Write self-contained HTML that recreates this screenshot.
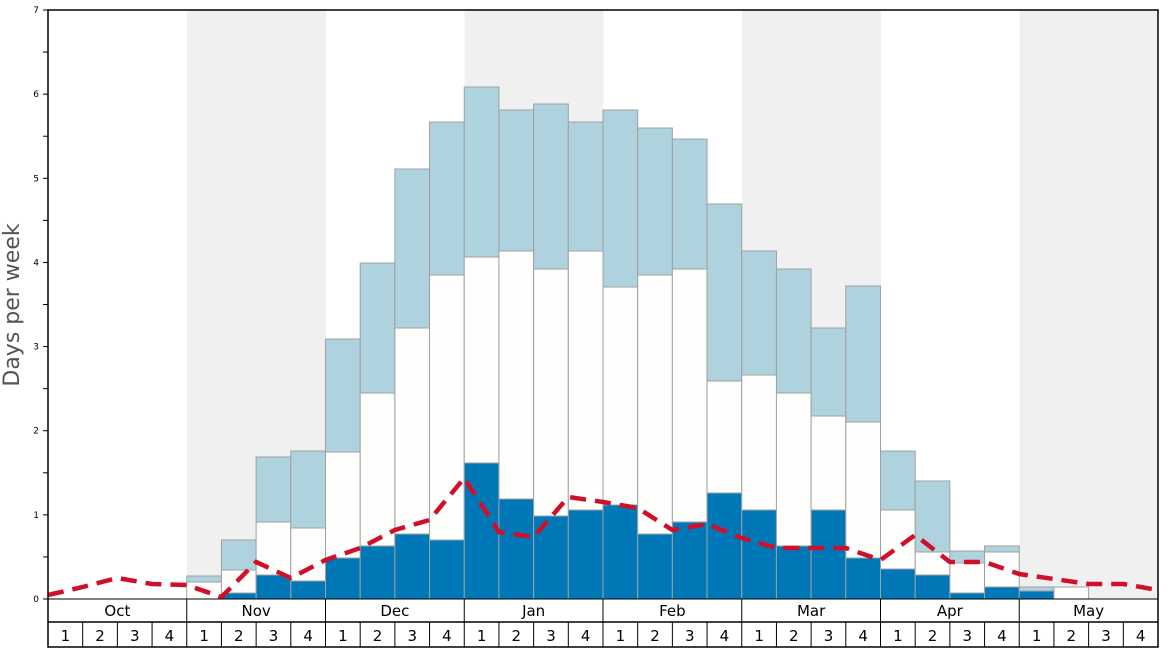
<!DOCTYPE html>
<html><head><style>body{margin:0;background:#fff}svg{display:block;font-family:"DejaVu Sans","Liberation Sans",sans-serif}</style></head>
<body>
<svg width="1168" height="648" viewBox="0 0 1168 648">
<rect width="1168" height="648" fill="#fff"/>
<g fill="#f0f0f0">
<rect x="187" y="10" width="139" height="589"/>
<rect x="464.5" y="10" width="139" height="589"/>
<rect x="742" y="10" width="139" height="589"/>
<rect x="1019.5" y="10" width="139" height="589"/>
</g>
<g id="bars" stroke="#a0a0a0" stroke-width="1"></g>
<polyline id="line" fill="none" stroke="#d0102a" stroke-width="4.5" stroke-dasharray="16,9" points=""/>
<rect x="48" y="10" width="1110" height="637" fill="none" stroke="#000" stroke-width="1.5"/>
<line x1="48" y1="599" x2="1158" y2="599" stroke="#000" stroke-width="1"/>
<line x1="48" y1="622" x2="1158" y2="622" stroke="#000" stroke-width="1.5"/>
<g id="axis" font-size="9" fill="#000"></g>
<g id="bottom" font-size="15" fill="#000" text-anchor="middle"></g>
<text transform="translate(19,305) rotate(-90)" text-anchor="middle" font-size="22" fill="#555">Days per week</text>
</svg>
<script>
var ns="http://www.w3.org/2000/svg";
function el(t,a,p,txt){var e=document.createElementNS(ns,t);for(var k in a)e.setAttribute(k,a[k]);if(txt!==undefined)e.textContent=txt;p.appendChild(e);return e;}
var W=1110/32,X0=48;
var d=[null,null,null,null,
[576,582,599],[540,570,593],[457,522,575],[451,528,581],
[339,452,558],[263,393,546],[169,328,534],[122,275,540],
[87,257,463],[110,251,499],[104,269,516],[122,251,510],
[110,287,505],[128,275,534],[139,269,522],[204,381,493],
[251,375,510],[269,393,546],[328,416,510],[286,422,558],
[451,510,569],[481,552,575],[551,563,593],[546,552,587],
[587,591,591],[587,587,599],null,null];
var g=document.getElementById("bars");
d.forEach(function(v,i){if(!v)return;var x=X0+i*W;
if(v[1]>v[0])el("rect",{x:x,y:v[0],width:W,height:v[1]-v[0],fill:"#aed3df"},g);
if(v[2]>v[1])el("rect",{x:x,y:v[1],width:W,height:v[2]-v[1],fill:"#fefefc"},g);
if(v[2]<599)el("rect",{x:x,y:v[2],width:W,height:599-v[2],fill:"#0077b6"},g);});
var ly=[595,587,578,584,585,597,562,578,560,548,530,520,478,532,537,497,502,508,530,524,538,548,548,548,560,535,562,562,574,579,584,584,590];
document.getElementById("line").setAttribute("points",ly.map(function(y,i){return (X0+i*W)+","+y}).join(" "));
var a=document.getElementById("axis");
for(var k=0;k<=14;k++){var y=599-k*84.14/2;el("line",{x1:43,x2:48,y1:y,y2:y,stroke:"#000","stroke-width":1},a);
if(k%2==0)el("text",{x:39,y:y+3,"text-anchor":"end"},a,k/2);}
var b=document.getElementById("bottom"),m=["Oct","Nov","Dec","Jan","Feb","Mar","Apr","May"];
for(var i=0;i<8;i++){var x=X0+i*4*W;el("text",{x:x+2*W,y:616},b,m[i]);
if(i>0)el("line",{x1:x,x2:x,y1:599,y2:647,stroke:"#000","stroke-width":1},b);
for(var j=0;j<4;j++){var xx=x+j*W;if(j>0)el("line",{x1:xx,x2:xx,y1:622,y2:647,stroke:"#000","stroke-width":1},b);el("text",{x:xx+W/2,y:641},b,j+1);}}
</script>
</body></html>
